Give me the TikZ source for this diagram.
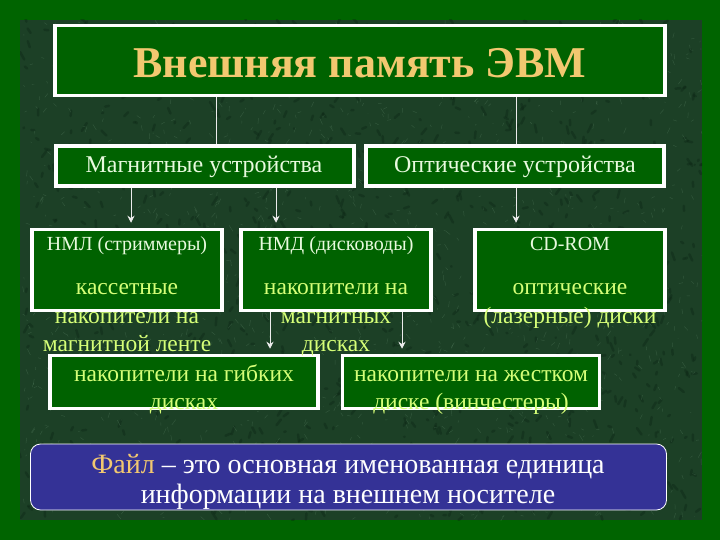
\documentclass[tikz,border=0pt]{standalone}
\usepackage{fontspec}
\setmainfont{Liberation Serif}
\usetikzlibrary{arrows.meta}
\definecolor{outerg}{RGB}{0,100,0}
\definecolor{marble}{RGB}{28,64,38}
\definecolor{vein}{RGB}{130,175,140}
\definecolor{darkv}{RGB}{10,35,18}
\definecolor{boxg}{RGB}{0,98,0}
\definecolor{gold}{RGB}{242,200,112}
\definecolor{lt}{RGB}{232,250,222}
\definecolor{yg}{RGB}{214,255,120}
\definecolor{fileblue}{RGB}{52,50,150}
\begin{document}
\begin{tikzpicture}[x=1pt,y=-1pt,
  box/.style={draw=white,line width=3.5pt,fill=boxg,inner sep=0pt},
  conn/.style={draw=white!85!gray,line width=0.9pt},
  arr/.style={conn,-{Stealth[length=7pt,width=7pt]},shorten >=5pt},
  hd/.style={text=lt,font=\fontsize{20}{24}\selectfont,anchor=base},
  sub/.style={text=yg,font=\fontsize{23.5}{28}\selectfont,anchor=base},
  cat/.style={text=lt,font=\fontsize{24}{28}\selectfont,anchor=base}]
\useasboundingbox (0,0) rectangle (720,540);
\fill[outerg] (0,0) rectangle (720,540);
\fill[marble] (20,20) rectangle (702,520);
% marble texture
\begin{scope}
\clip (20,20) rectangle (702,520);
\pgfmathsetseed{11}
\foreach \i in {1,...,900}{
  \pgfmathsetmacro{\xa}{20+682*rnd}
  \pgfmathsetmacro{\ya}{20+500*rnd}
  \pgfmathsetmacro{\dx}{10*rnd-5}
  \pgfmathsetmacro{\dy}{16*rnd-8}
  \draw[darkv,opacity=0.35,line width=2.5pt,line cap=round] (\xa,\ya) -- ++(\dx,\dy);
}
\foreach \i in {1,...,1600}{
  \pgfmathsetmacro{\xa}{20+682*rnd}
  \pgfmathsetmacro{\ya}{20+500*rnd}
  \pgfmathsetmacro{\dx}{8*rnd-4}
  \pgfmathsetmacro{\dy}{12*rnd-6}
  \draw[vein,opacity=0.22,line width=0.45pt] (\xa,\ya) -- ++(\dx,\dy);
}
\end{scope}
% boxes
\node[box,minimum width=610pt,minimum height=70pt] (title) at (360,60.5) {};
\node[box,minimum width=298pt,minimum height=40pt] (mag) at (205,166) {};
\node[box,minimum width=298pt,minimum height=40pt] (opt) at (515,166) {};
\node[box,minimum width=190pt,minimum height=81pt] (nml) at (127,270) {};
\node[box,minimum width=190pt,minimum height=81pt] (nmd) at (336,270) {};
\node[box,minimum width=190pt,minimum height=81pt] (cd) at (570,270) {};
\node[box,minimum width=268pt,minimum height=53pt] (fdd) at (184,382) {};
\node[box,minimum width=257pt,minimum height=53pt] (hdd) at (471,382) {};
\node[draw=white,line width=0.8pt,fill=fileblue,rounded corners=10pt,inner sep=0pt,
  minimum width=636pt,minimum height=66pt] (file) at (348.5,477) {};
% connectors
\coordinate (c1) at (216,0);
\coordinate (c2) at (516,0);
\coordinate (c3) at (131,0);
\coordinate (c4) at (276,0);
\coordinate (c5) at (270,0);
\coordinate (c6) at (402,0);
\draw[conn] (title.south -| c1) -- (mag.north -| c1);
\draw[conn] (title.south -| c2) -- (opt.north -| c2);
\draw[arr] (mag.south -| c3) -- (nml.north -| c3);
\draw[arr] (mag.south -| c4) -- (nmd.north -| c4);
\draw[arr] (opt.south -| c2) -- (cd.north -| c2);
\draw[arr] (nmd.south -| c5) -- (fdd.north -| c5);
\draw[arr] (nmd.south -| c6) -- (hdd.north -| c6);
% texts
\node[text=gold,font=\fontsize{44}{50}\bfseries\selectfont,anchor=base] (tt) at (360,78) {Внешняя память ЭВМ};
\node[cat] (tmag) at (204,173) {Магнитные устройства};
\node[cat] (topt) at (515,173) {Оптические устройства};
\node[hd] (t1a) at (127,251) {НМЛ (стриммеры)};
\node[sub] (t1b) at (127,294) {кассетные};
\node[sub] (t1c) at (127,323) {накопители на};
\node[sub] (t1d) at (127,351) {магнитной ленте};
\node[hd] (t2a) at (336,251) {НМД (дисководы)};
\node[sub] (t2b) at (336,294) {накопители на};
\node[sub] (t2c) at (336,323) {магнитных};
\node[sub] (t2d) at (336,351) {дисках};
\node[hd] (t3a) at (570,251) {CD-ROM};
\node[sub] (t3b) at (570,294) {оптические};
\node[sub] (t3c) at (570,323) {(лазерные) диски};
\node[sub] (t4a) at (184,381) {накопители на гибких};
\node[sub] (t4b) at (184,409) {дисках};
\node[sub] (t5a) at (471,381) {накопители на жестком};
\node[sub] (t5b) at (471,409) {диске (винчестеры)};
\node[text=white,font=\fontsize{28}{32}\selectfont,anchor=base] (f1) at (348,473) {\textcolor{gold}{Файл} – это основная именованная единица};
\node[text=white,font=\fontsize{28}{32}\selectfont,anchor=base] (f2) at (348,503) {информации на внешнем носителе};
\end{tikzpicture}
\end{document}
